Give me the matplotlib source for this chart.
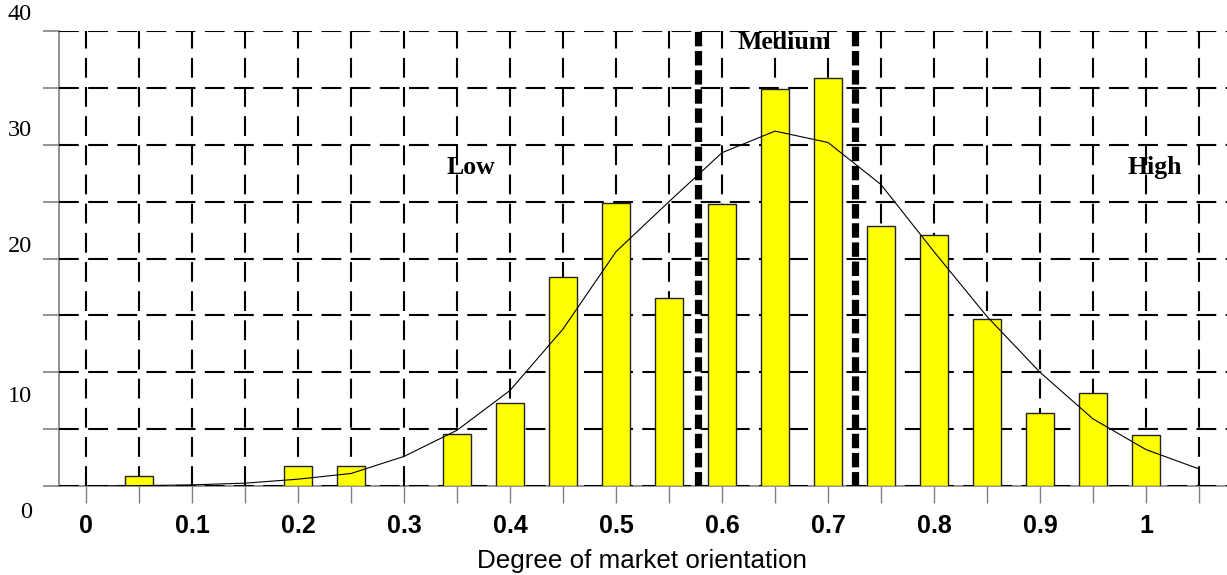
import matplotlib
matplotlib.use("Agg")
import matplotlib.pyplot as plt
import numpy as np

# ---- data ----
bar_x = [0.05, 0.20, 0.25, 0.35, 0.40, 0.45, 0.50, 0.55, 0.60, 0.65, 0.70,
         0.75, 0.80, 0.85, 0.90, 0.95, 1.00]
bar_h = [0.9, 1.8, 1.8, 4.6, 7.3, 18.4, 24.9, 16.5, 24.8, 34.9, 35.9,
         22.9, 22.1, 14.7, 6.4, 8.2, 4.5]

curve_x = [0.00, 0.05, 0.10, 0.15, 0.20, 0.25, 0.30, 0.35, 0.40, 0.45, 0.50,
           0.55, 0.60, 0.65, 0.70, 0.75, 0.80, 0.85, 0.90, 0.95, 1.00, 1.05]
curve_y = [0.0, 0.03, 0.1, 0.25, 0.6, 1.1, 2.6, 4.9, 8.4, 13.8, 20.6,
           25.0, 29.3, 31.2, 30.2, 26.5, 20.6, 14.9, 10.0, 5.9, 3.2, 1.5]

xtick_vals = [0.0, 0.1, 0.2, 0.3, 0.4, 0.5, 0.6, 0.7, 0.8, 0.9, 1.0]
xtick_labels = ["0", "0.1", "0.2", "0.3", "0.4", "0.5", "0.6", "0.7", "0.8", "0.9", "1"]
ylabel_vals = ["40", "30", "20", "10", "0"]
cutoffs = [0.5774, 0.7255]
region_labels = ["Low", "Medium", "High"]
region_x = [0.363, 0.6585, 1.0085]
region_y = [28.0, 39.0, 28.0]

# ---- figure ----
W, H = 1227, 575
fig = plt.figure(figsize=(W / 100, H / 100), dpi=100)
ax_left, ax_right, ax_top, ax_bot = 59, 1227, 31, 486
ax = fig.add_axes([ax_left / W, (H - ax_bot) / H, (ax_right - ax_left) / W, (ax_bot - ax_top) / H])

ax.set_xlim((59 - 86) / 1060, (1227 - 86) / 1060)
ax.set_ylim(0, 40)

grid_kw = dict(color="black", linewidth=1.5, linestyle=(0, (9.5, 4.5)))
minor_x = np.round(np.arange(0, 1.0501, 0.05), 2)
for xv in minor_x:
    ax.axvline(xv, zorder=1, **grid_kw)
for yv in range(0, 41, 5):
    ax.axhline(yv, zorder=1, **grid_kw)

ax.bar(bar_x, bar_h, width=0.026, color="#FFFF00", edgecolor="#222222",
       linewidth=1.0, zorder=3)
ax.plot(curve_x, curve_y, color="black", linewidth=0.8, zorder=4)

for c in cutoffs:
    ax.axvline(c, color="black", linewidth=5.2, linestyle=(0, (2.0, 0.65)), zorder=5)

for t, xx, yy in zip(region_labels, region_x, region_y):
    ax.text(xx, yy, t, ha="center", va="center", fontsize=18.5, fontweight="bold",
            family="Liberation Serif", zorder=6)

for s in ["top", "right"]:
    ax.spines[s].set_visible(False)
for s in ["left", "bottom"]:
    ax.spines[s].set_color("#808080")
    ax.spines[s].set_linewidth(1.2)
    ax.spines[s].set_zorder(0.5)

ax.set_xticks(xtick_vals, minor=False)
ax.set_xticks(minor_x, minor=True)
ax.set_xticklabels(xtick_labels, fontsize=18, fontweight="bold", family="Liberation Sans")
ax.tick_params(axis="x", which="both", direction="out", length=12, width=1.0,
               color="#808080", pad=8)
ax.tick_params(axis="x", which="minor", labelbottom=False)

ax.set_yticks(range(0, 41, 5))
ax.set_yticklabels([])
ax.tick_params(axis="y", direction="out", length=11.5, width=1.2, color="#808080")

ylab_pix = [15, 130, 247, 397, 513]
for t, yp in zip(ylabel_vals, ylab_pix):
    fig.text(32 / W, 1 - yp / H, t, ha="right", va="center", fontsize=17.5,
             family="Liberation Serif")

fig.text(642 / W, 1 - 561 / H, "Degree of market orientation", ha="center", va="center",
         fontsize=18.7, family="Liberation Sans")

fig.savefig("out.png", dpi=100)
